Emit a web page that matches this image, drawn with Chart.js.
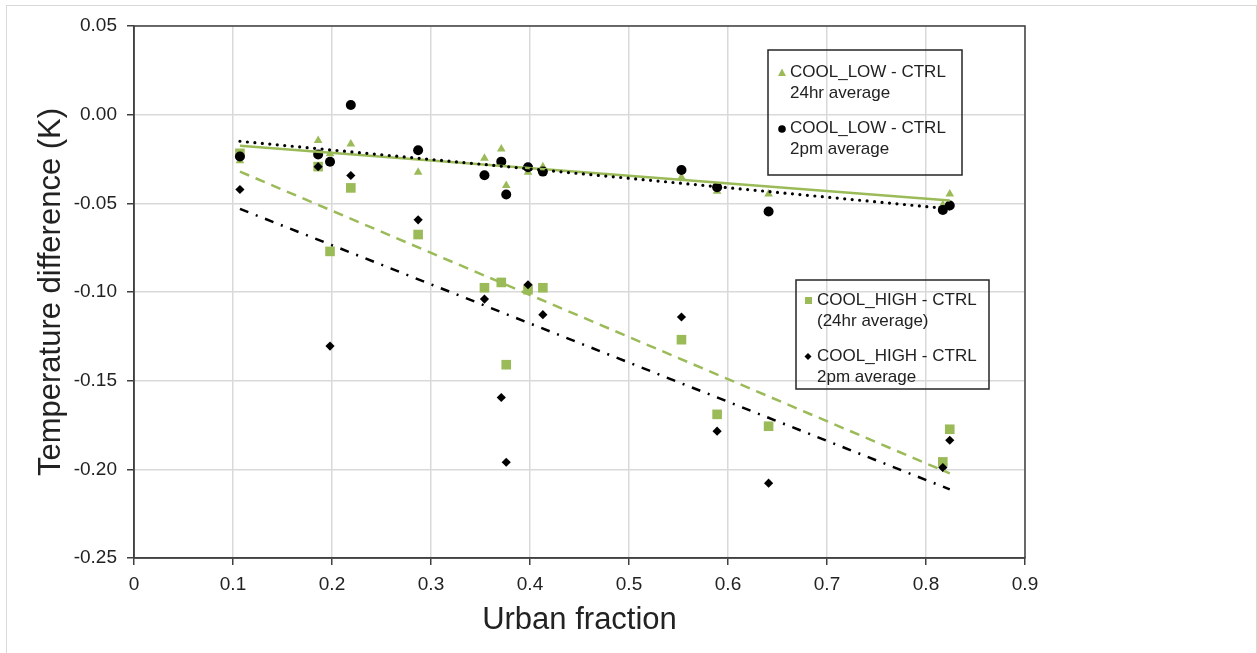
<!DOCTYPE html>
<html>
<head>
<meta charset="utf-8">
<script src="https://cdn.jsdelivr.net/npm/chart.js@4.4.0/dist/chart.umd.min.js"></script>
<style>
  html, body { margin: 0; padding: 0; background: #fff; }
</style>
</head>
<body>
<canvas id="chart" width="1257" height="653"></canvas>
<script>
// urban fraction of each site (x)
const urbanFraction = [0.107, 0.186, 0.198, 0.219, 0.287, 0.354, 0.371, 0.376, 0.398, 0.413, 0.553, 0.589, 0.641, 0.817, 0.824];
// temperature differences (K)
const coolLowDay = [-0.026, -0.0146, -0.022, -0.0165, -0.0325, -0.0246, -0.0193, -0.040, -0.0325, -0.0293, -0.0353, -0.0432, -0.0447, -0.051, -0.0447];
const coolLowPm = [-0.0236, -0.0225, -0.0266, 0.0055, -0.0201, -0.0342, -0.0265, -0.045, -0.0297, -0.0321, -0.0312, -0.0409, -0.0546, -0.0537, -0.0512];
const coolHighDay = [-0.0218, -0.0293, -0.0771, -0.0413, -0.0676, -0.0976, -0.0946, -0.141, -0.0987, -0.0976, -0.1269, -0.169, -0.1757, -0.1958, -0.1774];
const coolHighPm = [-0.0422, -0.0293, -0.1305, -0.0343, -0.0593, -0.104, -0.1595, -0.196, -0.0959, -0.1128, -0.1141, -0.1785, -0.2078, -0.199, -0.1836];

// linear trendlines (ends)
const trendX = [0.107, 0.824];
const lowDayTrend = [-0.0175, -0.0484];
const lowPmTrend = [-0.0150, -0.0531];
const highDayTrend = [-0.0321, -0.2023];
const highPmTrend = [-0.0531, -0.2113];

const xTicks = [0, 0.1, 0.2, 0.3, 0.4, 0.5, 0.6, 0.7, 0.8, 0.9];
const yTicks = [0.05, 0, -0.05, -0.10, -0.15, -0.20, -0.25];

const legendLabels = [
  ["COOL_LOW - CTRL", "24hr average"],
  ["COOL_LOW - CTRL", "2pm average"],
  ["COOL_HIGH - CTRL", "(24hr average)"],
  ["COOL_HIGH - CTRL", "2pm average"]
];

const GREEN = "#9bbb59";
const FONT = '"Liberation Sans", Arial, sans-serif';
const TEXT = "#222";

const pts = (ys, xs) => ys.map((y, i) => ({ x: (xs || urbanFraction)[i], y: y }));

// white page, light frame, plot box outline
const framePlugin = {
  id: "frame",
  beforeDraw(chart) {
    const ctx = chart.ctx;
    ctx.save();
    ctx.fillStyle = "#fff";
    ctx.fillRect(0, 0, chart.width, chart.height);
    ctx.strokeStyle = "#d9d9d9";
    ctx.lineWidth = 1;
    ctx.strokeRect(6.5, 5.5, 1250, 660);
    ctx.restore();
  },
  beforeDatasetsDraw(chart) {
    const { ctx, chartArea: a } = chart;
    ctx.save();
    ctx.strokeStyle = "#404040";
    ctx.lineWidth = 1.5;
    ctx.strokeRect(a.left, a.top, a.right - a.left, a.bottom - a.top);
    ctx.restore();
  }
};

// the two boxed legends inside the plot
const legendPlugin = {
  id: "boxLegends",
  afterDraw(chart) {
    const ctx = chart.ctx;
    ctx.save();
    ctx.strokeStyle = "#262626";
    ctx.lineWidth = 1.5;
    ctx.strokeRect(768, 50, 194, 125);
    ctx.strokeRect(796, 280, 193, 109);

    ctx.font = "17px " + FONT;
    ctx.fillStyle = TEXT;
    ctx.textBaseline = "middle";
    const rows = [
      { x: 790, y: 72 }, { x: 790, y: 128 },
      { x: 817, y: 300 }, { x: 817, y: 356 }
    ];
    rows.forEach((r, i) => {
      ctx.fillStyle = TEXT;
      ctx.fillText(legendLabels[i][0], r.x, r.y);
      ctx.fillText(legendLabels[i][1], r.x, r.y + 21);
    });

    // markers
    ctx.fillStyle = GREEN;
    ctx.beginPath();
    ctx.moveTo(782, 68.5); ctx.lineTo(786, 76); ctx.lineTo(778, 76); ctx.closePath();
    ctx.fill();
    ctx.fillStyle = "#000";
    ctx.beginPath();
    ctx.arc(782, 129, 3.8, 0, Math.PI * 2);
    ctx.fill();
    ctx.fillStyle = GREEN;
    ctx.fillRect(805, 297, 7, 7);
    ctx.fillStyle = "#000";
    ctx.beginPath();
    ctx.moveTo(808, 353); ctx.lineTo(811.5, 356.5); ctx.lineTo(808, 360); ctx.lineTo(804.5, 356.5); ctx.closePath();
    ctx.fill();
    ctx.restore();
  }
};

new Chart(document.getElementById("chart"), {
  type: "scatter",
  data: {
    datasets: [
      // trendlines sit on top of the markers
      { label: "trend low 24hr", data: pts(lowDayTrend, trendX), showLine: true, pointRadius: 0,
        borderColor: GREEN, borderWidth: 2.5, order: 1 },
      { label: "trend low 2pm", data: pts(lowPmTrend, trendX), showLine: true, pointRadius: 0,
        borderColor: "#000", borderWidth: 3.2, borderDash: [0, 7.5], borderCapStyle: "round", order: 0 },
      { label: "trend high 24hr", data: pts(highDayTrend, trendX), showLine: true, pointRadius: 0,
        borderColor: GREEN, borderWidth: 2.5, borderDash: [10, 7], order: 2 },
      { label: "trend high 2pm", data: pts(highPmTrend, trendX), showLine: true, pointRadius: 0,
        borderColor: "#000", borderWidth: 2.5, borderDash: [9, 8, 2, 8], order: 3 },
      { label: "COOL_LOW - CTRL 2pm average", data: pts(coolLowPm), pointStyle: "circle", pointRadius: 5,
        backgroundColor: "#000", borderColor: "#000", borderWidth: 0, order: 4 },
      { label: "COOL_HIGH - CTRL 2pm average", data: pts(coolHighPm), pointStyle: "rectRot", pointRadius: 4.6,
        backgroundColor: "#000", borderColor: "#000", borderWidth: 0, order: 5 },
      { label: "COOL_LOW - CTRL 24hr average", data: pts(coolLowDay), pointStyle: "triangle", pointRadius: 5,
        backgroundColor: GREEN, borderColor: GREEN, borderWidth: 0, order: 6 },
      { label: "COOL_HIGH - CTRL (24hr average)", data: pts(coolHighDay), pointStyle: "rect", pointRadius: 6.8,
        backgroundColor: GREEN, borderColor: GREEN, borderWidth: 0, order: 7 }
    ]
  },
  options: {
    responsive: false,
    animation: false,
    layout: { padding: { left: 0, top: 26, right: 232, bottom: 0 } },
    plugins: {
      legend: { display: false },
      tooltip: { enabled: false }
    },
    scales: {
      x: {
        type: "linear",
        min: 0,
        max: 0.9,
        afterBuildTicks: (s) => { s.ticks = xTicks.map((v) => ({ value: v })); },
        afterFit: (s) => { s.height = 95; },
        grid: { color: "#d9d9d9", lineWidth: 1.5, tickColor: "#404040", tickLength: 7 },
        border: { color: "#404040", width: 1.5 },
        ticks: {
          color: TEXT, padding: 8, maxRotation: 0,
          font: { family: FONT, size: 19 },
          callback: (v) => (v === 0 ? "0" : Number(v).toFixed(1))
        },
        title: {
          display: true, text: "Urban fraction", color: TEXT,
          font: { family: FONT, size: 31 }, padding: { bottom: 14 }
        }
      },
      y: {
        type: "linear",
        min: -0.25,
        max: 0.05,
        afterBuildTicks: (s) => { s.ticks = yTicks.map((v) => ({ value: v })); },
        afterFit: (s) => { s.width = 134; },
        grid: { color: "#d9d9d9", lineWidth: 1.5, tickColor: "#404040", tickLength: 7 },
        border: { color: "#404040", width: 1.5 },
        ticks: {
          color: TEXT, padding: 10,
          font: { family: FONT, size: 19 },
          callback: (v) => Number(v).toFixed(2)
        },
        title: {
          display: true, text: "Temperature difference (K)", color: TEXT,
          font: { family: FONT, size: 31 }, padding: { top: 33 }
        }
      }
    }
  },
  plugins: [framePlugin, legendPlugin]
});
</script>
</body>
</html>
